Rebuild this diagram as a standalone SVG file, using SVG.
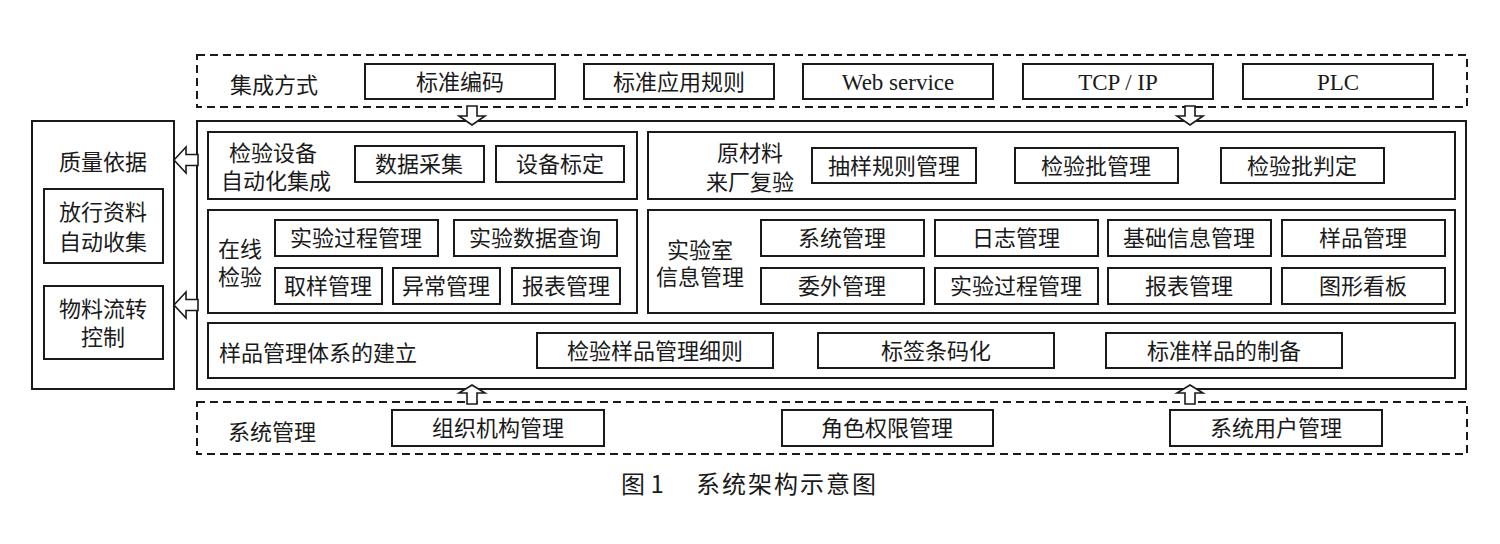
<svg xmlns="http://www.w3.org/2000/svg" width="1500" height="544" viewBox="0 0 1500 544">
<style>
.b{fill:#fff;stroke:#1a1a1a;stroke-width:2}
.d{fill:none;stroke:#1a1a1a;stroke-width:2;stroke-dasharray:8 5}
.t{font-family:"Liberation Serif","Noto Sans CJK SC",serif;font-size:22px;fill:#1a1a1a;text-anchor:middle}
.e{font-size:23px}
.l{text-anchor:start}
.a{fill:#fff;stroke:#1a1a1a;stroke-width:1.6;stroke-linejoin:miter}
.cap{font-family:"Noto Sans CJK SC","Liberation Sans",sans-serif;font-size:24px;fill:#1a1a1a}
</style>
<rect width="1500" height="544" fill="#fff"/>

<g id="integration">
<rect class="d" x="197" y="55" width="1270" height="52"/>
<text class="t" x="274" y="93">集成方式</text>
<rect class="b" x="365" y="64" width="190" height="35"/><text class="t" x="460" y="90">标准编码</text>
<rect class="b" x="584" y="64" width="190" height="35"/><text class="t" x="679" y="90">标准应用规则</text>
<rect class="b" x="803" y="64" width="190" height="35"/><text class="t e" x="898" y="90">Web service</text>
<rect class="b" x="1023" y="64" width="190" height="35"/><text class="t e" x="1118" y="90">TCP / IP</text>
<rect class="b" x="1243" y="64" width="190" height="35"/><text class="t e" x="1338" y="90">PLC</text>
</g>

<g id="quality">
<rect class="b" x="32" y="121" width="142" height="268"/>
<text class="t" x="103" y="170">质量依据</text>
<rect class="b" x="44" y="189" width="119" height="74"/>
<text class="t" x="103" y="220">放行资料</text><text class="t" x="103" y="250">自动收集</text>
<rect class="b" x="44" y="286" width="119" height="73"/>
<text class="t" x="103" y="317">物料流转</text><text class="t" x="103" y="345">控制</text>
</g>

<g id="main">
<rect class="b" x="197" y="121" width="1269" height="268"/>
</g>

<g id="device">
<rect class="b" x="208" y="132" width="429" height="67"/>
<text class="t" x="273" y="161">检验设备</text><text class="t" x="276" y="189">自动化集成</text>
<rect class="b" x="355" y="146" width="129" height="36"/><text class="t" x="419" y="172">数据采集</text>
<rect class="b" x="496" y="146" width="128" height="36"/><text class="t" x="560" y="172">设备标定</text>
</g>

<g id="raw">
<rect class="b" x="648" y="132" width="807" height="67"/>
<text class="t" x="750" y="161">原材料</text><text class="t" x="750" y="190">来厂复验</text>
<rect class="b" x="812" y="148" width="164" height="35"/><text class="t" x="894" y="174">抽样规则管理</text>
<rect class="b" x="1015" y="148" width="163" height="35"/><text class="t" x="1096" y="174">检验批管理</text>
<rect class="b" x="1221" y="148" width="163" height="35"/><text class="t" x="1302" y="174">检验批判定</text>
</g>

<g id="online">
<rect class="b" x="208" y="210" width="429" height="103"/>
<text class="t" x="240" y="257">在线</text><text class="t" x="240" y="285">检验</text>
<rect class="b" x="275" y="220" width="163" height="36"/><text class="t" x="356" y="246">实验过程管理</text>
<rect class="b" x="454" y="220" width="163" height="36"/><text class="t" x="535" y="246">实验数据查询</text>
<rect class="b" x="275" y="268" width="107" height="36"/><text class="t" x="328" y="294">取样管理</text>
<rect class="b" x="393" y="268" width="107" height="36"/><text class="t" x="446" y="294">异常管理</text>
<rect class="b" x="512" y="268" width="108" height="36"/><text class="t" x="566" y="294">报表管理</text>
</g>

<g id="lims">
<rect class="b" x="648" y="210" width="807" height="103"/>
<text class="t" x="700" y="258">实验室</text><text class="t" x="700" y="285">信息管理</text>
<rect class="b" x="761" y="220" width="163" height="36"/><text class="t" x="842" y="246">系统管理</text>
<rect class="b" x="935" y="220" width="163" height="36"/><text class="t" x="1016" y="246">日志管理</text>
<rect class="b" x="1108" y="220" width="163" height="36"/><text class="t" x="1189" y="246">基础信息管理</text>
<rect class="b" x="1282" y="220" width="163" height="36"/><text class="t" x="1363" y="246">样品管理</text>
<rect class="b" x="761" y="268" width="163" height="36"/><text class="t" x="842" y="294">委外管理</text>
<rect class="b" x="935" y="268" width="163" height="36"/><text class="t" x="1016" y="294">实验过程管理</text>
<rect class="b" x="1108" y="268" width="163" height="36"/><text class="t" x="1189" y="294">报表管理</text>
<rect class="b" x="1282" y="268" width="163" height="36"/><text class="t" x="1363" y="294">图形看板</text>
</g>

<g id="sample">
<rect class="b" x="208" y="323" width="1247" height="55"/>
<text class="t l" x="219" y="361">样品管理体系的建立</text>
<rect class="b" x="537" y="333" width="236" height="35"/><text class="t" x="655" y="359">检验样品管理细则</text>
<rect class="b" x="818" y="333" width="236" height="35"/><text class="t" x="936" y="359">标签条码化</text>
<rect class="b" x="1106" y="333" width="236" height="35"/><text class="t" x="1224" y="359">标准样品的制备</text>
</g>

<g id="sysmgmt">
<rect class="d" x="197" y="402" width="1270" height="52"/>
<text class="t l" x="228" y="440">系统管理</text>
<rect class="b" x="392" y="410" width="212" height="36"/><text class="t" x="498" y="436">组织机构管理</text>
<rect class="b" x="782" y="410" width="211" height="36"/><text class="t" x="887" y="436">角色权限管理</text>
<rect class="b" x="1170" y="410" width="212" height="36"/><text class="t" x="1276" y="436">系统用户管理</text>
</g>

<g id="connectors">
<polygon class="a" points="467,106 477,106 477,116 485,116 472,125 459,116 467,116"/>
<polygon class="a" points="1185,106 1195,106 1195,116 1203,116 1190,125 1177,116 1185,116"/>
<polygon class="a" points="472,385 485,393 477,393 477,404 467,404 467,393 459,393"/>
<polygon class="a" points="1190,385 1203,393 1195,393 1195,404 1185,404 1185,393 1177,393"/>
<polygon class="a" points="174,160 186,147 186,154.5 198,154.5 198,165.5 186,165.5 186,173"/>
<polygon class="a" points="174,305 186,292 186,299.5 198,299.5 198,310.5 186,310.5 186,318"/>
</g>

<text class="cap" y="493"><tspan x="621">图 1</tspan><tspan x="696" letter-spacing="2">系统架构示意图</tspan></text>
</svg>
